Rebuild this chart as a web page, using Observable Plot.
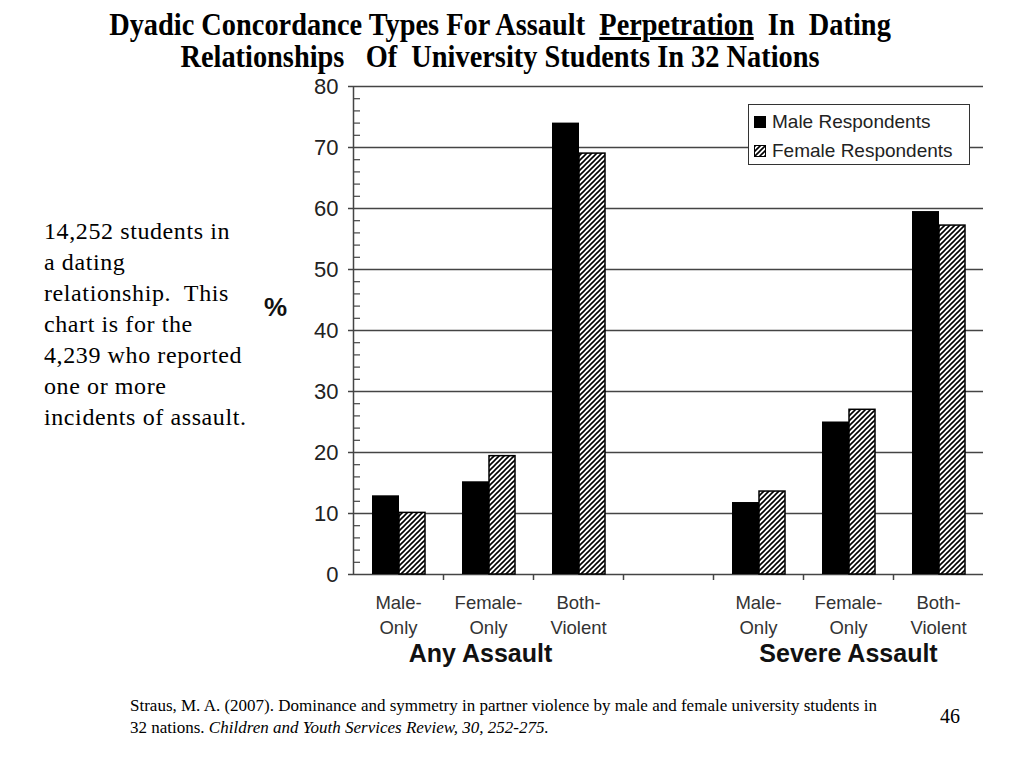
<!DOCTYPE html>
<html>
<head>
<meta charset="utf-8">
<script src="https://cdn.jsdelivr.net/npm/d3@7"></script>
<script src="https://cdn.jsdelivr.net/npm/@observablehq/plot@0.6"></script>
<style>
  html, body { margin: 0; padding: 0; background: #fff; }
  body { width: 1024px; height: 768px; position: relative; overflow: hidden; }
  .abs { position: absolute; }
  #title { left: 0; width: 1000px; top: 9px; text-align: center; font-family: "Liberation Serif", serif; font-weight: bold; font-size: 31px; line-height: 32px; white-space: pre; color: #000; transform: scaleX(0.915); transform-origin: 500px 0; }
  #title div { display: block; }
  #side { left: 44px; top: 216px; font-family: "Liberation Serif", serif; font-size: 24px; letter-spacing: 0.6px; line-height: 31px; color: #000; white-space: pre; }
  #pct { left: 264px; top: 292px; font-family: "Liberation Sans", Arial, sans-serif; font-weight: bold; font-size: 26px; color: #111; }
  #legend { left: 748px; top: 104px; width: 220px; height: 59px; border: 1.5px solid #333; background: #fff; font-family: "Liberation Sans", Arial, sans-serif; font-size: 19px; color: #222; z-index: 5; }
  .item { position: absolute; left: 5px; display: flex; align-items: center; }
  .sw { width: 12px; height: 12px; margin-right: 6px; box-sizing: border-box; }
  #caption { left: 130px; top: 695px; font-family: "Liberation Serif", serif; font-size: 17px; line-height: 22px; color: #000; }
  #page { left: 940px; top: 705px; font-family: "Liberation Serif", serif; font-size: 20px; color: #000; }
  #chart { left: 0; top: 70px; }
</style>
</head>
<body>
<svg width="0" height="0" style="position:absolute">
  <defs>
    <pattern id="hatch" width="5" height="5" patternUnits="userSpaceOnUse">
      <rect width="5" height="5" fill="#fff"></rect>
      <path d="M-1,1 l2,-2 M0,5 l5,-5 M4,6 l2,-2" stroke="#000" stroke-width="1.6"></path>
    </pattern>
  </defs>
</svg>
<div id="title" class="abs"><div><span>Dyadic Concordance Types For Assault  </span><span style="text-decoration: underline">Perpetration</span><span>  In  Dating</span></div><div><span>Relationships   Of  University Students In 32 Nations</span></div></div>
<div id="side" class="abs">14,252 students in
a dating
relationship.  This
chart is for the
4,239 who reported
one or more
incidents of assault.</div>
<div id="pct" class="abs">%</div>
<div id="chart" class="abs"></div>
<div id="legend" class="abs">
  <div class="item" style="top:6px"><div class="sw" style="background:#000"></div>Male Respondents</div>
  <div class="item" style="top:35px"><svg class="sw" width="12" height="12" style="border:1.5px solid #000"><rect width="12" height="12" fill="url(#hatch)"></rect></svg>Female Respondents</div>
</div>
<div id="caption" class="abs">Straus, M. A. (2007). Dominance and symmetry in partner violence by male and female university students in<br>32 nations. <i>Children and Youth Services Review, 30, 252-275.</i></div>
<div id="page" class="abs">46</div>
<script>
// ---- data ----
const groups = ["Any Assault", "Severe Assault"];
const types = ["Male-Only", "Female-Only", "Both-Violent"];
const typeLabels = ["Male-\nOnly", "Female-\nOnly", "Both-\nViolent"];
const maleAny = [12.9, 15.2, 74.0];
const femaleAny = [10.1, 19.4, 69.0];
const maleSevere = [11.8, 25.0, 59.5];
const femaleSevere = [13.6, 27.0, 57.2];
const yTicks = [0, 10, 20, 30, 40, 50, 60, 70, 80];
const minorTicks = d3.range(0, 81, 2).filter(v => v % 10 !== 0);

// ---- build tables ----
const key = (g, t) => g + "|" + t;
const domain = [...types.map(t => key(groups[0], t)), "gap", ...types.map(t => key(groups[1], t))];
const rows = [];
types.forEach((t, i) => {
  rows.push({slot: key(groups[0], t), sex: "Male", value: maleAny[i]});
  rows.push({slot: key(groups[0], t), sex: "Female", value: femaleAny[i]});
  rows.push({slot: key(groups[1], t), sex: "Male", value: maleSevere[i]});
  rows.push({slot: key(groups[1], t), sex: "Female", value: femaleSevere[i]});
});
const labelRows = [];
groups.forEach(g => types.forEach((t, i) => labelRows.push({slot: key(g, t), label: typeLabels[i]})));
const boundaryTicks = domain.slice(0, 6);

const chart = Plot.plot({
  width: 1024,
  height: 600,
  marginLeft: 353,
  marginRight: 41,
  marginTop: 16,
  marginBottom: 96,
  style: {background: "transparent", fontFamily: "Liberation Sans, Arial, sans-serif"},
  x: {type: "band", domain, padding: 0, axis: null},
  y: {domain: [0, 80], axis: null},
  marks: [
    Plot.ruleY(yTicks, {y: d => d, stroke: "#444", strokeWidth: 1.5}),
    Plot.ruleY(minorTicks, {y: d => d, stroke: "#444", strokeWidth: 1.2, insetRight: 623}),
    Plot.ruleX([domain[0]], {x: d => d, dx: -45, stroke: "#444", strokeWidth: 1.5}),
    Plot.axisY({ticks: yTicks, tickSize: 5, tickPadding: 10, fontSize: 22, stroke: "#444", strokeWidth: 1.5, color: "#222", label: null}),
    Plot.axisX({ticks: boundaryTicks, tickSize: 6, tickFormat: () => "", dx: 45, stroke: "#444", strokeWidth: 1.5, label: null}),
    Plot.barY(rows.filter(d => d.sex === "Male"), {x: "slot", y: "value", fill: "#000", insetLeft: 19, insetRight: 44}),
    Plot.barY(rows.filter(d => d.sex === "Female"), {x: "slot", y: "value", fill: "url(#hatch)", stroke: "#000", strokeWidth: 1.5, insetLeft: 46, insetRight: 18}),
    Plot.text(labelRows, {x: "slot", text: "label", frameAnchor: "bottom", lineAnchor: "top", dy: 17, fontSize: 18.5, lineHeight: 1.35, fill: "#333"}),
    Plot.text([groups[0]], {x: () => key(groups[0], types[1]), text: d => d, frameAnchor: "bottom", lineAnchor: "middle", dy: 79, dx: -8, fontSize: 25, fontWeight: "bold", fill: "#111"}),
    Plot.text([groups[1]], {x: () => key(groups[1], types[1]), text: d => d, frameAnchor: "bottom", lineAnchor: "middle", dy: 79, fontSize: 25, fontWeight: "bold", fill: "#111"})
  ]
});
document.getElementById("chart").appendChild(chart);
</script>
</body>
</html>
